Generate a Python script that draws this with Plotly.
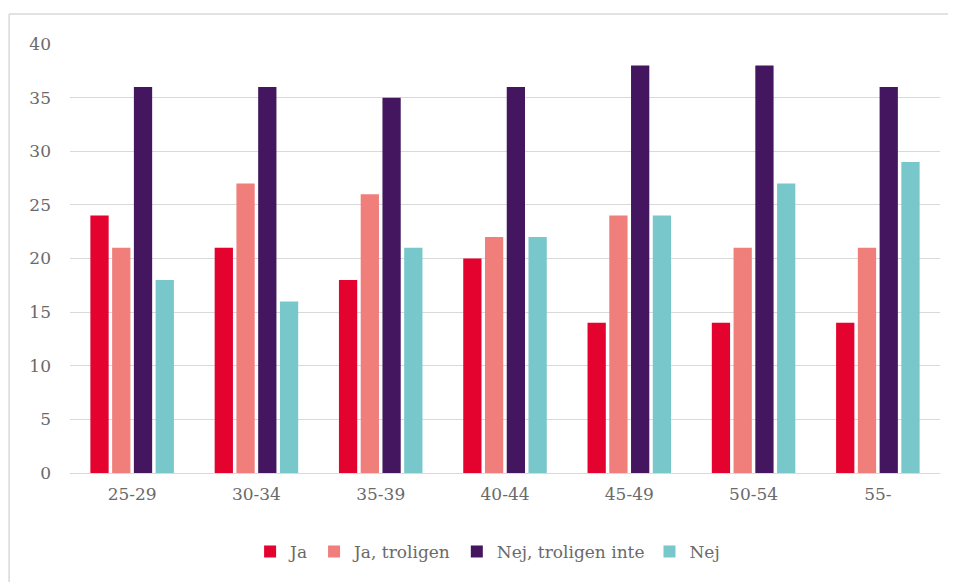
import plotly.graph_objects as go

categories = ['25-29', '30-34', '35-39', '40-44', '45-49', '50-54', '55-']
ja = [24, 21, 18, 20, 14, 14, 14]
ja_troligen = [21, 27, 26, 22, 24, 21, 21]
nej_troligen_inte = [36, 36, 35, 36, 38, 38, 36]
nej = [18, 16, 21, 22, 24, 27, 29]

series = [
    ('Ja', ja, '#E4032E'),
    ('Ja, troligen', ja_troligen, '#F07F7C'),
    ('Nej, troligen inte', nej_troligen_inte, '#43165F'),
    ('Nej', nej, '#78C7CA'),
]

font = 'DejaVu Serif'
grey = '#6a6a6a'

fig = go.Figure()
for name, vals, col in series:
    fig.add_trace(go.Bar(x=categories, y=vals, name=name, marker_color=col,
                         marker_line_width=0))

fig.update_layout(
    width=956, height=582,
    barmode='group', bargap=0.3, bargroupgap=0.16,
    plot_bgcolor='white', paper_bgcolor='white',
    margin=dict(l=62, r=24, t=36, b=117),
    font=dict(family=font, size=17, color=grey),
    legend=dict(orientation='h', x=0.48, xanchor='center', y=-0.184, yanchor='middle',
                font=dict(size=17, color=grey), itemwidth=30, tracegroupgap=0),
    showlegend=True,
)
fig.update_yaxes(range=[0, 40], dtick=5, showgrid=True, gridcolor='#D9D9D9', gridwidth=1,
                 zeroline=False, ticks='', ticklabelstandoff=18, showline=False)
fig.update_xaxes(showline=True, linecolor='#D9D9D9', linewidth=1, ticks='',
                 ticklabelstandoff=6)

# outer frame: only the top and left edges are in view
frame = dict(color='#D9D9D9', width=1.5)
fig.add_shape(type='line', xref='paper', yref='paper',
              x0=-0.07, x1=1.1, y0=1.07, y1=1.07, line=frame)
fig.add_shape(type='line', xref='paper', yref='paper',
              x0=-0.07, x1=-0.07, y0=-0.35, y1=1.07, line=frame)

fig.write_html('out.html')
